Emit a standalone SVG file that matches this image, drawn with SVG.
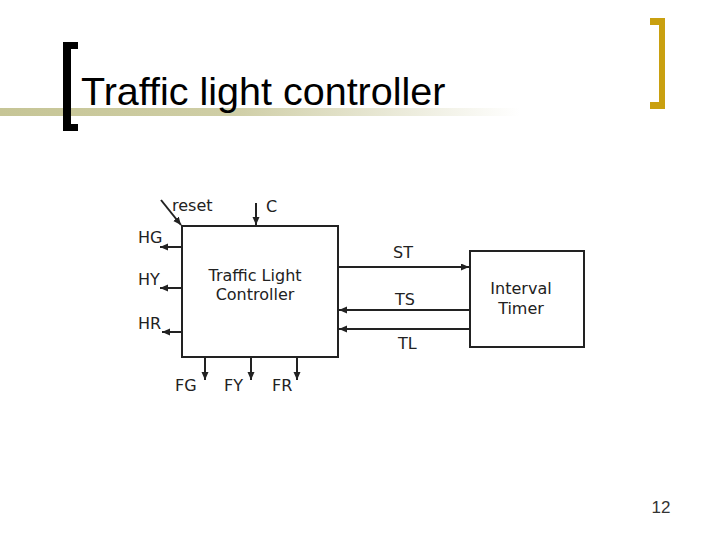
<svg xmlns="http://www.w3.org/2000/svg" width="720" height="540" viewBox="0 0 720 540">
<defs>
<linearGradient id="band" x1="0" y1="0" x2="1" y2="0">
<stop offset="0" stop-color="#c6c596"/>
<stop offset="0.45" stop-color="#cfcea6"/>
<stop offset="1" stop-color="#ffffff"/>
</linearGradient>
<marker id="ah" markerUnits="userSpaceOnUse" markerWidth="9" markerHeight="8" refX="8" refY="3.5" orient="auto">
<path d="M0,0 L8,3.5 L0,7 z" fill="#222"/>
</marker>
<style>
.lbl{font-family:"DejaVu Sans","Verdana",sans-serif;font-size:16px;fill:#222}
.box{fill:none;stroke:#222;stroke-width:2}
.wire{fill:none;stroke:#222;stroke-width:2;marker-end:url(#ah)}
</style>
</defs>
<rect width="720" height="540" fill="#fff"/>
<g id="header">
<rect x="0" y="108" width="520" height="8" fill="url(#band)"/>
<path d="M63,42 H78 V49 H71 V124 H78 V131 H63 Z" fill="#000"/>
<path d="M650,18 H665 V109 H650 V102 H659 V25 H650 Z" fill="#c9a010"/>
<text x="81" y="105" font-family="'Liberation Sans',Arial,sans-serif" font-size="39.5" fill="#000">Traffic light controller</text>
</g>
<g id="controller">
<rect class="box" x="182" y="226" width="156" height="131"/>
<text class="lbl" x="255" y="281" text-anchor="middle">Traffic Light</text>
<text class="lbl" x="255" y="300" text-anchor="middle">Controller</text>
</g>
<g id="timer">
<rect class="box" x="470" y="251" width="114" height="96"/>
<text class="lbl" x="521" y="294" text-anchor="middle">Interval</text>
<text class="lbl" x="521" y="314" text-anchor="middle">Timer</text>
</g>
<g id="connectors">
<line class="wire" x1="161" y1="200" x2="181" y2="225"/>
<line class="wire" x1="256" y1="203" x2="256" y2="225"/>
<line class="wire" x1="182" y1="247" x2="160" y2="247"/>
<line class="wire" x1="182" y1="288" x2="160" y2="288"/>
<line class="wire" x1="182" y1="332" x2="162" y2="332"/>
<line class="wire" x1="338" y1="267" x2="469" y2="267"/>
<line class="wire" x1="470" y1="310" x2="339" y2="310"/>
<line class="wire" x1="470" y1="329" x2="339" y2="329"/>
<line class="wire" x1="205" y1="357" x2="205" y2="380"/>
<line class="wire" x1="251" y1="357" x2="251" y2="380"/>
<line class="wire" x1="297" y1="357" x2="297" y2="380"/>
</g>
<g id="labels">
<text class="lbl" x="172" y="211">reset</text>
<text class="lbl" x="266" y="212">C</text>
<text class="lbl" x="138" y="243">HG</text>
<text class="lbl" x="138" y="285">HY</text>
<text class="lbl" x="138" y="329">HR</text>
<text class="lbl" x="393" y="258">ST</text>
<text class="lbl" x="395" y="305">TS</text>
<text class="lbl" x="398" y="349">TL</text>
<text class="lbl" x="175" y="391">FG</text>
<text class="lbl" x="224" y="391">FY</text>
<text class="lbl" x="272" y="391">FR</text>
</g>
<text x="661" y="513" text-anchor="middle" font-family="'Liberation Sans',Arial,sans-serif" font-size="17" fill="#333">12</text>
</svg>
